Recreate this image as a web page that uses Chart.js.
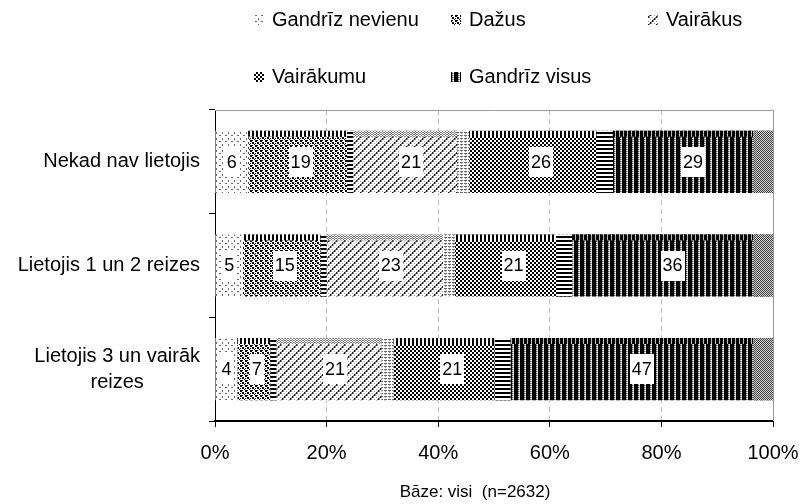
<!DOCTYPE html>
<html><head><meta charset="utf-8">
<script src="https://cdn.jsdelivr.net/npm/chart.js@4/dist/chart.umd.min.js"></script>
<style>html,body{margin:0;padding:0;background:#fff}#wrap{width:802px;height:504px}</style>
</head><body><div id="wrap"><canvas id="c" width="802" height="504"></canvas></div>
<script>
// ---- data ----
const categories = [['Nekad nav lietojis'], ['Lietojis 1 un 2 reizes'], ['Lietojis 3 un vairāk', 'reizes']];
const seriesNames = ['Gandrīz nevienu', 'Dažus', 'Vairākus', 'Vairākumu', 'Gandrīz visus'];
const gandrizNevienu = [6, 5, 4];
const dazus = [19, 15, 7];
const vairakus = [21, 23, 21];
const vairakumu = [26, 21, 21];
const gandrizVisus = [29, 36, 47];
const xTickValues = [0, 20, 40, 60, 80, 100];
const footerText = 'Bāze: visi  (n=2632)';

const FONT = "'Liberation Sans', Arial, sans-serif";
const series = [gandrizNevienu, dazus, vairakus, vairakumu, gandrizVisus];
const totals = categories.map((_, j) => series.reduce((s, arr) => s + arr[j], 0));

// ---- patterns ----
function tile(w, h, fn) {
  const c = document.createElement('canvas'); c.width = w; c.height = h;
  const g = c.getContext('2d'); g.fillStyle = '#fff'; g.fillRect(0, 0, w, h);
  for (let y = 0; y < h; y++) for (let x = 0; x < w; x++) { const col = fn(x, y); if (col) { g.fillStyle = col; g.fillRect(x, y, 1, 1); } }
  return c;
}
const ctx = document.getElementById('c').getContext('2d');
const tiles = [
  tile(6, 6, (x, y) => ((x === 0 && (y === 0 || y === 1)) || (y === 3 && (x === 3 || x === 4))) ? '#6a6a6a' : null),
  tile(5, 5, (x, y) => ((x < 2 && y < 2) || (x >= 2 && x < 4 && y >= 2 && y < 4) || (x === 4 && y === 4) || (x === 2 && y === 0) || (x === 0 && y === 3)) ? '#000' : null),
  tile(8, 8, (x, y) => { const d = (x + y) % 8; if (d < 2) return (x % 2 === 0) ? '#222' : '#888'; if (d === 2 && x % 2 === 1) return '#999'; if (d === 5 && x % 2 === 0) return '#aaa'; return null; }),
  tile(4, 4, (x, y) => ((Math.floor(x / 2) + Math.floor(y / 2)) % 2 === 0) ? '#000' : null),
  tile(6, 4, (x, y) => { if (x === 2) return (y % 2 === 0) ? '#c8c8c8' : '#555'; if (x === 3) return (y % 2 === 0) ? '#fff' : '#aaa'; return '#000'; })
];
const patterns = tiles.map(t => ctx.createPattern(t, 'repeat'));
// texture variations seen at segment edges in the original bitmap
const vBars = ctx.createPattern(tile(4, 1, (x) => x < 2 ? '#000' : null), 'repeat');
const vBarsDark = ctx.createPattern(tile(4, 1, (x) => x < 3 ? '#000' : '#bbb'), 'repeat');
const hBars = ctx.createPattern(tile(1, 4, (x, y) => y < 2 ? '#000' : null), 'repeat');
const hDash = ctx.createPattern(tile(4, 3, (x, y) => (y === 0 && x < 3) ? '#666' : (y === 1 && x === 1 ? '#999' : null)), 'repeat');
const fineChk = ctx.createPattern(tile(2, 2, (x, y) => ((x + y) % 2 === 0) ? '#444' : '#d0d0d0'), 'repeat');
const dotsChk = ctx.createPattern(tile(3, 2, (x, y) => ((x + y) % 2 === 0) ? '#777' : null), 'repeat');
const edgeStyle = [
  null,
  { top: vBars, topH: 6, end: hBars, endW: 6 },
  { top: dotsChk, topH: 6, end: hDash, endW: 12 },
  { top: vBars, topH: 6, end: hBars, endW: 16 },
  { top: vBarsDark, topH: 6, end: fineChk, endW: 20 }
];

// ---- plugins ----
const framePlugin = {
  id: 'frame',
  beforeDatasetsDraw(chart) {
    const { ctx, chartArea: a } = chart;
    ctx.save(); ctx.strokeStyle = '#9a9a9a'; ctx.lineWidth = 1;
    ctx.beginPath(); ctx.moveTo(a.left, a.top + 0.5); ctx.lineTo(a.right + 0.5, a.top + 0.5); ctx.lineTo(a.right + 0.5, a.bottom); ctx.stroke();
    ctx.restore();
  }
};
const edgeTexture = {
  id: 'edgeTexture',
  afterDatasetsDraw(chart) {
    const ctx = chart.ctx; ctx.save();
    chart.data.datasets.forEach((ds, i) => {
      const st = edgeStyle[i]; if (!st) return;
      chart.getDatasetMeta(i).data.forEach(el => {
        const x0 = Math.min(el.x, el.base), x1 = Math.max(el.x, el.base);
        const top = el.y - el.height / 2, h = el.height;
        const ew = Math.min(st.endW, (x1 - x0) * 0.3);
        ctx.fillStyle = st.top; ctx.fillRect(x0, top, x1 - x0 - ew, st.topH);
        ctx.fillStyle = st.end; ctx.fillRect(x1 - ew, top, ew, h);
      });
    });
    ctx.restore();
  }
};
const valueLabels = {
  id: 'valueLabels',
  afterDatasetsDraw(chart) {
    const ctx = chart.ctx; ctx.save();
    ctx.font = '18px ' + FONT; ctx.textAlign = 'center'; ctx.textBaseline = 'middle';
    chart.data.datasets.forEach((ds, i) => {
      chart.getDatasetMeta(i).data.forEach((el, j) => {
        const cx = (el.x + el.base) / 2, cy = el.y;
        const t = String(ds.raw[j]);
        const w = ctx.measureText(t).width + 4, h = 30;
        ctx.fillStyle = '#fff'; ctx.fillRect(Math.round(cx - w / 2), Math.round(cy - h / 2), Math.round(w), h);
        ctx.fillStyle = '#000'; ctx.fillText(t, cx, cy + 1);
      });
    });
    ctx.restore();
  }
};
const categoryLabels = {
  id: 'categoryLabels',
  afterDraw(chart) {
    const ctx = chart.ctx, ys = chart.scales.y; ctx.save();
    ctx.font = '20px ' + FONT; ctx.fillStyle = '#000'; ctx.textAlign = 'center'; ctx.textBaseline = 'middle';
    const lh = 26, rightEdge = ys.right - 15;
    categories.forEach((lines, i) => {
      const yc = ys.getPixelForValue(i);
      const bw = Math.max(...lines.map(l => ctx.measureText(l).width));
      const cx = rightEdge - bw / 2;
      lines.forEach((l, k) => ctx.fillText(l, cx, yc - (lines.length - 1) * lh / 2 + k * lh));
    });
    ctx.restore();
  }
};
const legendPlugin = {
  id: 'customLegend',
  afterDraw(chart) {
    const ctx = chart.ctx; ctx.save();
    ctx.font = '20px ' + FONT; ctx.fillStyle = '#000'; ctx.textBaseline = 'middle'; ctx.textAlign = 'left';
    const spots = [[254, 20], [451, 20], [648, 20], [254, 77], [451, 77]];
    seriesNames.forEach((n, i) => {
      const [x, y] = spots[i];
      ctx.fillStyle = patterns[i]; ctx.fillRect(x, y - 5, 10, 10);
      ctx.fillStyle = '#000'; ctx.fillText(n, x + 18, y);
    });
    ctx.font = '17px ' + FONT; ctx.textAlign = 'center';
    ctx.fillText(footerText, 475, 492);
    ctx.restore();
  }
};

new Chart(ctx, {
  type: 'bar',
  data: {
    labels: categories,
    datasets: series.map((s, i) => ({
      label: seriesNames[i], raw: s,
      data: s.map((v, j) => v / totals[j] * 100),
      backgroundColor: patterns[i], borderWidth: 0,
      categoryPercentage: 0.6, barPercentage: 1
    }))
  },
  options: {
    indexAxis: 'y', responsive: false, animation: false, devicePixelRatio: 1,
    layout: { padding: { top: 110, right: 29, bottom: 40, left: 0 } },
    plugins: { legend: { display: false }, tooltip: { enabled: false }, title: { display: false } },
    scales: {
      x: {
        stacked: true, min: 0, max: 100,
        afterBuildTicks: s => { s.ticks = xTickValues.map(v => ({ value: v })); },
        ticks: { callback: v => v + '%', font: { family: FONT, size: 20 }, color: '#000', padding: 14, maxRotation: 0, autoSkip: false },
        grid: { color: c => (c.tick && c.tick.value === 0) ? 'rgba(0,0,0,0)' : '#bdbdbd', tickColor: '#000', tickLength: 6, tickBorderDash: [] },
        border: { display: true, color: '#000', width: 2, dash: [5, 4] },
        afterFit: s => { s.height = 43; s.paddingLeft = 0; s.paddingRight = 0; }
      },
      y: {
        stacked: true,
        ticks: { display: false },
        grid: { drawOnChartArea: false, color: '#000', tickColor: '#000', tickLength: 6, offset: true },
        border: { display: true, color: '#000', width: 1 },
        afterFit: s => { s.width = 215; s.paddingTop = 0; s.paddingBottom = 0; }
      }
    }
  },
  plugins: [framePlugin, edgeTexture, valueLabels, categoryLabels, legendPlugin]
});
</script></body></html>
